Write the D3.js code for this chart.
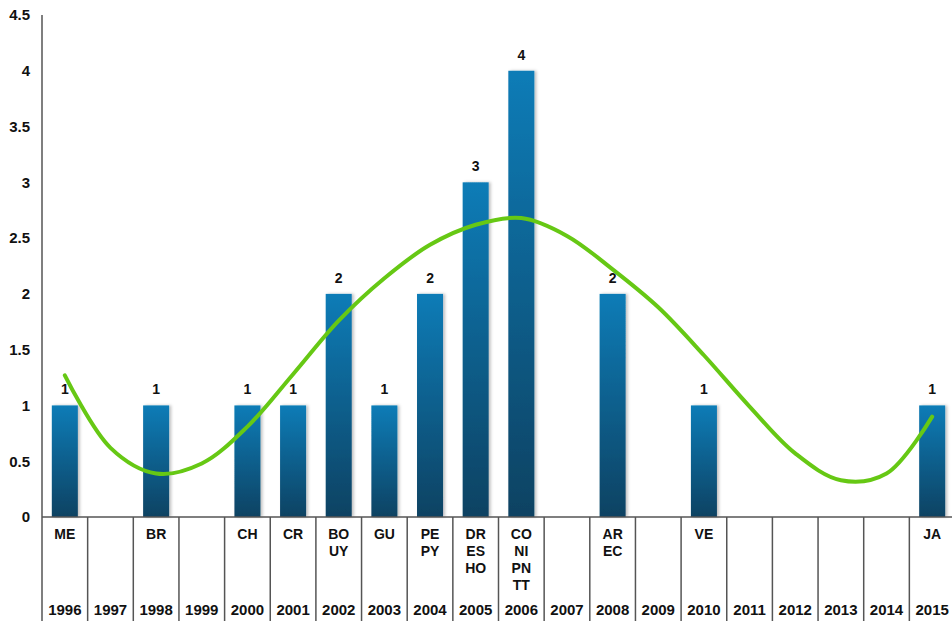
<!DOCTYPE html>
<html>
<head>
<meta charset="utf-8">
<script src="https://cdn.jsdelivr.net/npm/d3@7/dist/d3.min.js"></script>
<style>
  html, body { margin: 0; padding: 0; background: #fff; }
  svg { display: block; font-family: "Liberation Sans", Arial, sans-serif; }
</style>
</head>
<body>
<svg id="chart" width="952" height="621"></svg>
<script>
// Years on the category axis
const years = ["1996","1997","1998","1999","2000","2001","2002","2003","2004","2005",
               "2006","2007","2008","2009","2010","2011","2012","2013","2014","2015"];
// Country codes listed under each year
const countries = [["ME"],[],["BR"],[],["CH"],["CR"],["BO","UY"],["GU"],["PE","PY"],["DR","ES","HO"],
                   ["CO","NI","PN","TT"],[],["AR","EC"],[],["VE"],[],[],[],[],["JA"]];
// Count per year
const counts = [1,0,1,0,1,1,2,1,2,3,4,0,2,0,1,0,0,0,0,1];
// Smoothed trend values per year
const trend = [1.27,0.62,0.39,0.48,0.81,1.28,1.76,2.14,2.44,2.62,2.68,2.52,2.22,1.88,1.45,0.99,0.57,0.33,0.39,0.90];
// Value-axis ticks
const yTicks = [0,0.5,1,1.5,2,2.5,3,3.5,4,4.5];

const svg = d3.select("#chart");
const mLeft = 42, mRight = 955, mTop = 15, mBase = 517, mBottom = 621;

const x = d3.scaleBand().domain(years).range([mLeft, mRight]).paddingInner(0.43).paddingOuter(0.215);
const xb = d3.scaleBand().domain(years).range([mLeft, mRight]).padding(0);
const y = d3.scaleLinear().domain([0, 4.5]).range([mBase, mTop]);

const defs = svg.append("defs");
const grad = defs.append("linearGradient").attr("id", "barGrad")
  .attr("x1", 0).attr("y1", 0).attr("x2", 0).attr("y2", 1);
grad.append("stop").attr("offset", "0%").attr("stop-color", "#0a7cb7");
grad.append("stop").attr("offset", "100%").attr("stop-color", "#0c4262");
const shadow = defs.append("filter").attr("id", "shadow")
  .attr("x", "-30%").attr("y", "-10%").attr("width", "160%").attr("height", "120%");
shadow.append("feDropShadow").attr("dx", 2).attr("dy", 0).attr("stdDeviation", 1.5)
  .attr("flood-color", "#000").attr("flood-opacity", 0.25);

// Bars
const barData = years.map((yr, i) => ({ yr, v: counts[i] })).filter(d => d.v > 0);
svg.append("g").selectAll("rect").data(barData).join("rect")
  .attr("x", d => x(d.yr))
  .attr("width", x.bandwidth())
  .attr("y", d => y(d.v))
  .attr("height", d => y(0) - y(d.v))
  .attr("fill", "url(#barGrad)")
  .attr("filter", "url(#shadow)");

// Value labels
svg.append("g").selectAll("text").data(barData).join("text")
  .attr("x", d => x(d.yr) + x.bandwidth() / 2)
  .attr("y", d => y(d.v) - 11)
  .attr("text-anchor", "middle")
  .attr("font-size", 14).attr("font-weight", "bold").attr("fill", "#111")
  .text(d => d.v);

// Trend curve
const line = d3.line()
  .x((d, i) => x(years[i]) + x.bandwidth() / 2)
  .y(d => y(d))
  .curve(d3.curveCatmullRom.alpha(0.5));
svg.append("path").datum(trend)
  .attr("d", line)
  .attr("fill", "none")
  .attr("stroke", "#66c814")
  .attr("stroke-width", 4)
  .attr("stroke-linecap", "round");

// Value axis
const yAxis = d3.axisLeft(y).tickValues(yTicks).tickSize(0).tickPadding(12)
  .tickFormat(d3.format("~g"));
const gy = svg.append("g").attr("transform", `translate(${mLeft},0)`).call(yAxis);
gy.select(".domain").remove();
gy.selectAll("text").attr("font-size", 15).attr("font-weight", "bold")
  .attr("fill", "#111").attr("font-family", "Liberation Sans, Arial, sans-serif");
svg.append("line").attr("x1", mLeft).attr("x2", mLeft).attr("y1", mTop).attr("y2", mBottom)
  .attr("stroke", "#555").attr("stroke-width", 1.5);

// Table below the plot
svg.append("line").attr("x1", mLeft).attr("x2", mRight).attr("y1", mBase).attr("y2", mBase)
  .attr("stroke", "#555").attr("stroke-width", 1.5);
svg.append("g").selectAll("line").data(years.slice(1).concat(["end"])).join("line")
  .attr("x1", d => d === "end" ? mRight : xb(d))
  .attr("x2", d => d === "end" ? mRight : xb(d))
  .attr("y1", mBase).attr("y2", mBottom)
  .attr("stroke", "#555").attr("stroke-width", 1.5);

const cells = svg.append("g").selectAll("g").data(years).join("g")
  .attr("transform", d => `translate(${xb(d) + xb.bandwidth() / 2},0)`);
cells.each(function(d, i) {
  const g = d3.select(this);
  countries[i].forEach((c, k) => {
    g.append("text").attr("y", 539 + k * 17).attr("text-anchor", "middle")
      .attr("font-size", 14).attr("font-weight", "bold").attr("fill", "#111").text(c);
  });
  g.append("text").attr("y", 615).attr("text-anchor", "middle")
    .attr("font-size", 15).attr("font-weight", "bold").attr("fill", "#111").text(d);
});
</script>
</body>
</html>
